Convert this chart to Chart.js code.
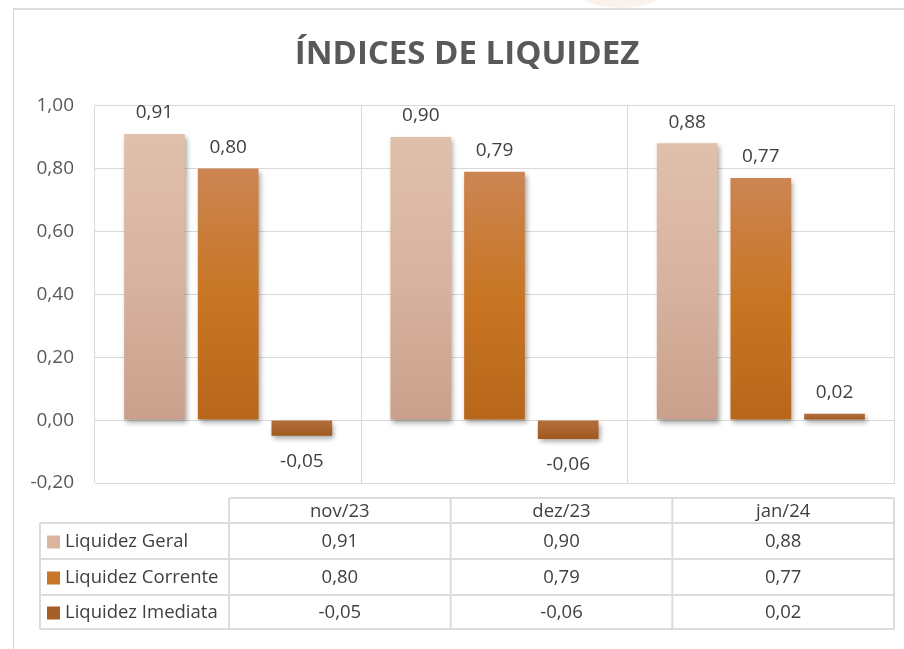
<!DOCTYPE html>
<html><head><meta charset="utf-8">
<script src="https://cdn.jsdelivr.net/npm/chart.js@4"></script>
<style>
html,body{margin:0;padding:0;background:#fff;overflow:hidden;}
#wrap{position:relative;width:904px;height:649px;overflow:hidden;background:#fff;}
#frame{position:absolute;left:13px;top:8px;width:1000px;height:1000px;border-left:1px solid #d9d9d9;border-top:2px solid #dcdcdc;}
#blob{position:absolute;left:580px;top:-22px;width:82px;height:30px;border-radius:50%;background:#fbf2ec;}
canvas{position:absolute;left:0;top:0;}
</style></head>
<body><div id="wrap"><div id="blob"></div><div id="frame"></div><canvas id="c" width="920" height="649"></canvas></div>
<script>
const categories = ['nov/23', 'dez/23', 'jan/24'];
const seriesNames = ['Liquidez Geral', 'Liquidez Corrente', 'Liquidez Imediata'];
const liquidezGeral = [0.91, 0.90, 0.88];
const liquidezCorrente = [0.80, 0.79, 0.77];
const liquidezImediata = [-0.05, -0.06, 0.02];
const yTicks = [-0.2, 0, 0.2, 0.4, 0.6, 0.8, 1.0];

const gradStops = [
  ['#e0c0ab', '#d8b39f', '#c9a08b'],
  ['#cc8553', '#c87624', '#b8661a'],
  ['#b4703c', '#aa6430', '#a0581c']
];
const legendColors = ['#d9b5a0', '#c8762a', '#a65e26'];

function fmt(v) {
  if (Math.abs(v) < 1e-9) v = 0;
  return v.toFixed(2).replace('.', ',');
}

function barFill(si) {
  return function (ctx) {
    const chart = ctx.chart;
    if (ctx.type !== 'data' || !chart.chartArea || !chart.scales.y) return gradStops[si][1];
    const y = chart.scales.y;
    const v = ctx.raw;
    const p1 = y.getPixelForValue(Math.max(v, 0));
    const p2 = y.getPixelForValue(Math.min(v, 0));
    if (!isFinite(p1) || !isFinite(p2) || p1 === p2) return gradStops[si][1];
    const g = chart.ctx.createLinearGradient(0, p1, 0, p2);
    g.addColorStop(0, gradStops[si][0]);
    g.addColorStop(0.5, gradStops[si][1]);
    g.addColorStop(1, gradStops[si][2]);
    return g;
  };
}

const shadowPlugin = {
  id: 'barShadow',
  beforeDatasetsDraw(chart) {
    const c = chart.ctx;
    c.save();
    c.shadowColor = 'rgba(0,0,0,0.35)';
    c.shadowBlur = 5;
    c.shadowOffsetX = 2;
    c.shadowOffsetY = 3;
  },
  afterDatasetsDraw(chart) { chart.ctx.restore(); }
};

const labelPlugin = {
  id: 'valueLabels',
  afterDatasetsDraw(chart) {
    const c = chart.ctx;
    c.save();
    c.font = '19px "Open Sans"';
    c.fillStyle = '#404040';
    c.textAlign = 'center';
    c.textBaseline = 'middle';
    chart.data.datasets.forEach((ds, i) => {
      chart.getDatasetMeta(i).data.forEach((bar, j) => {
        const v = ds.data[j];
        const yy = v >= 0 ? bar.y - 21 : bar.y + 26;
        c.fillText(fmt(v), bar.x, yy);
      });
    });
    c.restore();
  }
};

const tablePlugin = {
  id: 'dataTable',
  afterDraw(chart) {
    const c = chart.ctx;
    const right = chart.chartArea.right;
    const legendLeft = 40, colLeft = 229;
    const rows = [498, 523, 559, 595, 629];
    const n = categories.length;
    const colW = (right - colLeft) / n;
    c.save();
    c.strokeStyle = '#dcdcdc';
    c.lineWidth = 2;
    c.beginPath();
    c.moveTo(colLeft, rows[0]); c.lineTo(right, rows[0]);
    for (let r = 1; r < rows.length; r++) { c.moveTo(legendLeft, rows[r]); c.lineTo(right, rows[r]); }
    for (let k = 0; k <= n; k++) { const x = colLeft + k * colW; c.moveTo(x, rows[0]); c.lineTo(x, rows[rows.length - 1]); }
    c.moveTo(legendLeft, rows[1]); c.lineTo(legendLeft, rows[rows.length - 1]);
    c.stroke();

    c.font = '18.5px "Open Sans"';
    c.fillStyle = '#404040';
    c.textBaseline = 'middle';
    c.textAlign = 'center';
    categories.forEach((cat, k) => c.fillText(cat, colLeft + (k + 0.5) * colW, (rows[0] + rows[1]) / 2 + 1));
    chart.data.datasets.forEach((ds, i) => {
      const cy = (rows[i + 1] + rows[i + 2]) / 2 + 1;
      c.fillStyle = legendColors[i];
      c.fillRect(47, cy - 6.5, 13, 13);
      c.fillStyle = '#404040';
      c.textAlign = 'left';
      c.fillText(ds.label, 65, cy);
      c.textAlign = 'center';
      ds.data.forEach((v, k) => c.fillText(fmt(v), colLeft + (k + 0.5) * colW, cy));
    });
    c.restore();
  }
};

const seriesData = [liquidezGeral, liquidezCorrente, liquidezImediata];

new Chart(document.getElementById('c'), {
  type: 'bar',
  data: {
    labels: categories,
    datasets: seriesNames.map((name, i) => ({
      label: name,
      data: seriesData[i],
      backgroundColor: barFill(i),
      borderWidth: 0,
      categoryPercentage: 0.83,
      barPercentage: 0.824
    }))
  },
  options: {
    responsive: false,
    animation: false,
    events: [],
    layout: { padding: { left: 24, right: 10, top: 0, bottom: 166 } },
    plugins: {
      legend: { display: false },
      tooltip: { enabled: false },
      title: {
        display: true,
        text: 'ÍNDICES DE LIQUIDEZ',
        color: '#595959',
        font: { family: 'Open Sans', size: 33, weight: 'bold', lineHeight: 1.2 },
        padding: { top: 35, bottom: 31 }
      }
    },
    scales: {
      x: {
        grid: { color: '#d9d9d9', lineWidth: 1, drawTicks: false, offset: true },
        border: { color: '#d9d9d9' },
        ticks: { display: false },
        afterFit: s => { s.height = 0; }
      },
      y: {
        min: -0.2, max: 1.0,
        grid: { color: '#d9d9d9', lineWidth: 1, drawTicks: false },
        border: { display: false },
        ticks: { color: '#595959', font: { family: 'Open Sans', size: 19 }, padding: 21, callback: v => fmt(v) },
        afterBuildTicks: s => { s.ticks = yTicks.map(v => ({ value: v })); },
        afterFit: s => { s.width = 71; }
      },
      yRight: {
        type: 'linear',
        position: 'right',
        display: true,
        grid: { display: false, drawTicks: false },
        border: { display: false },
        ticks: { display: false },
        afterFit: s => { s.width = 16; }
      }
    }
  },
  plugins: [shadowPlugin, labelPlugin, tablePlugin]
});
</script>
</body></html>
